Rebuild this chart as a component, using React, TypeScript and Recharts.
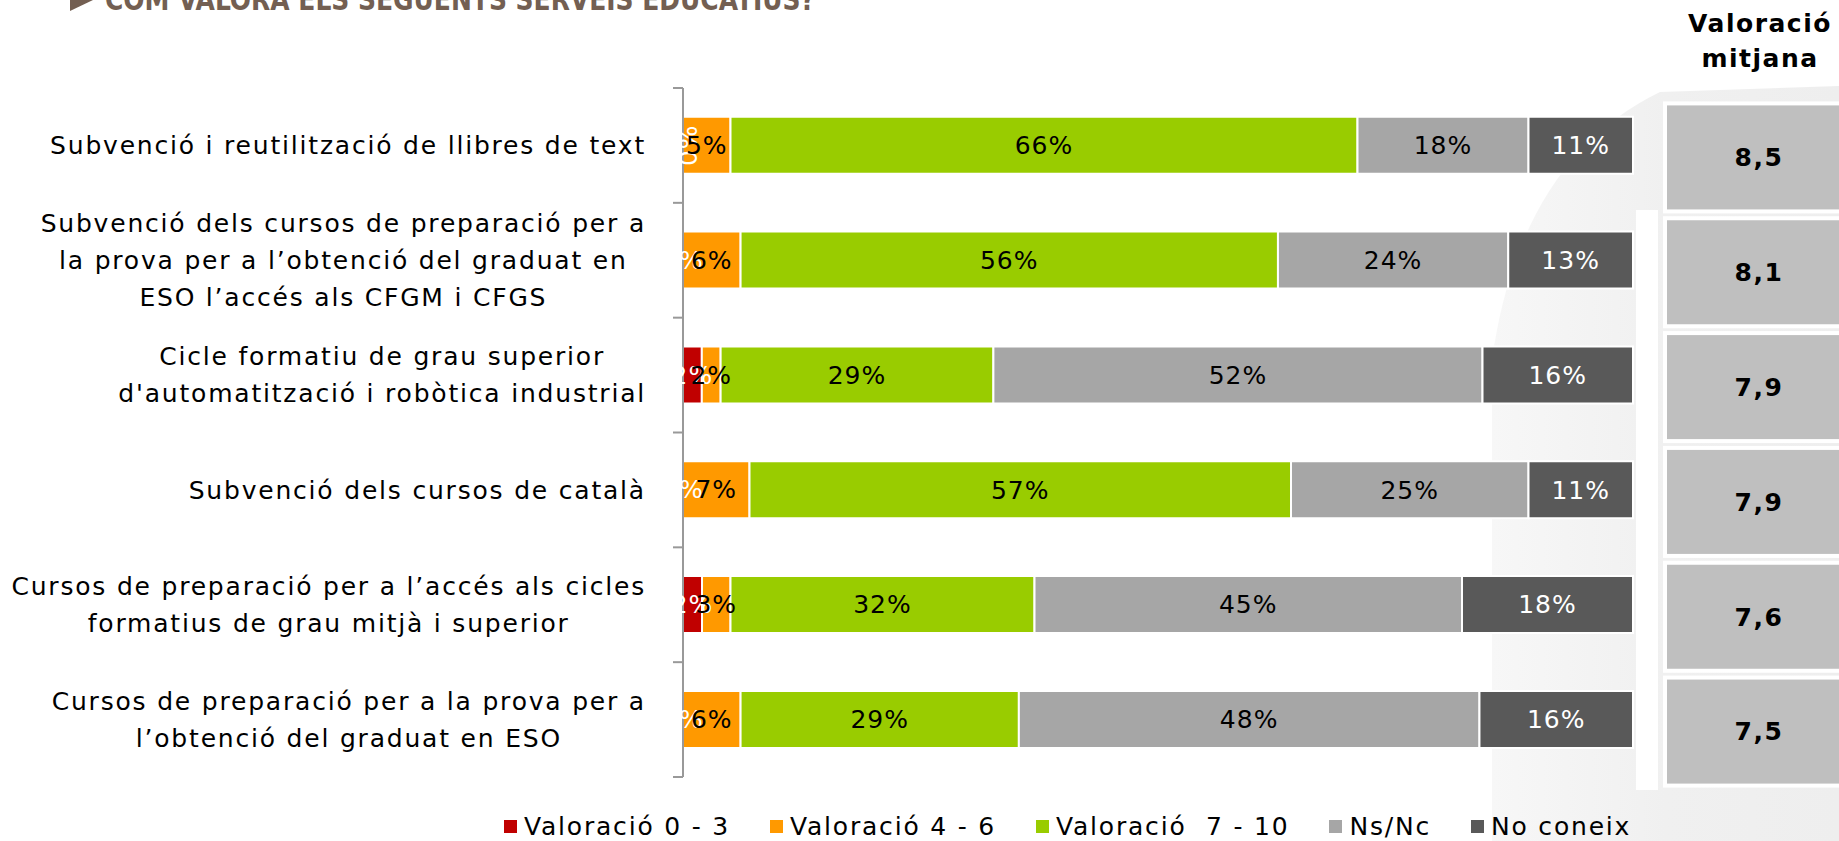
import React from 'react';
import { BarChart, Bar, XAxis, YAxis, LabelList, Legend } from 'recharts';

const FONT = '"DejaVu Sans", sans-serif';
const LABEL_SIZE = 25;
const LABEL_SPACING = 1.8;

// category labels, one entry per line as in the original slide
const categories = [
  ['Subvenció i reutilització de llibres de text'],
  ['Subvenció dels cursos de preparació per a', 'la prova per a l’obtenció del graduat en', 'ESO l’accés als CFGM i CFGS'],
  ['Cicle formatiu de grau superior', "d'automatització i robòtica industrial"],
  ['Subvenció dels cursos de català'],
  ['Cursos de preparació per a l’accés als cicles', 'formatius de grau mitjà i superior'],
  ['Cursos de preparació per a la prova per a', 'l’obtenció del graduat en ESO'],
];

const val0to3 = [0, 0, 2, 0, 2, 0];
const val4to6 = [5, 6, 2, 7, 3, 6];
const val7to10 = [66, 56, 29, 57, 32, 29];
const nsNc = [18, 24, 52, 25, 45, 48];
const noConeix = [11, 13, 16, 11, 18, 16];

const meanScores = ['8,5', '8,1', '7,9', '7,9', '7,6', '7,5'];

const seriesKeys = ['v03', 'v46', 'v710', 'nsnc', 'nc'];
const seriesNames = ['Valoració 0 - 3', 'Valoració 4 - 6', 'Valoració  7 - 10', 'Ns/Nc', 'No coneix'];
const seriesColors = ['#c00000', '#ff9900', '#99cc00', '#a6a6a6', '#595959'];
const labelColors = ['#ffffff', '#000000', '#000000', '#000000', '#ffffff'];
const seriesValues = [val0to3, val4to6, val7to10, nsNc, noConeix];

const data = categories.map((lines, i) => {
  const row: Record<string, any> = { name: lines.join(' '), mean: meanScores[i] };
  seriesKeys.forEach((k, j) => {
    row[k] = seriesValues[j][i];
  });
  return row;
});

let measureCtx: CanvasRenderingContext2D | null = null;
const textWidth = (s: string) => {
  if (!measureCtx) measureCtx = document.createElement('canvas').getContext('2d');
  if (!measureCtx) return s.length * 14;
  measureCtx.font = `${LABEL_SIZE}px "DejaVu Sans"`;
  return measureCtx.measureText(s).width + LABEL_SPACING * s.length;
};

const TICK_SIZE = 10;
const TICK_MARGIN = 27;

const CategoryTick = (props: any) => {
  const { x, y, payload, index } = props;
  const i = index ?? payload.index;
  const lines = categories[i] ?? [String(payload.value)];
  const half = payload.offset || 57.4;
  const axisX = x + TICK_SIZE + TICK_MARGIN;
  const maxW = Math.max(...lines.map(textWidth));
  const cx = x - maxW / 2;
  return (
    <g>
      <line x1={axisX - TICK_SIZE} x2={axisX} y1={y - half} y2={y - half} stroke="#999" strokeWidth={2} />
      {i === categories.length - 1 && (
        <line x1={axisX - TICK_SIZE} x2={axisX} y1={y + half} y2={y + half} stroke="#999" strokeWidth={2} />
      )}
      <text x={cx} y={y} textAnchor="middle" fontSize={LABEL_SIZE} letterSpacing={LABEL_SPACING} fill="#000">
        {lines.map((l, k) => (
          <tspan key={k} x={cx} y={y + (k - (lines.length - 1) / 2) * 37} dy="0.35em">
            {l}
          </tspan>
        ))}
      </text>
    </g>
  );
};

const MeanTick = (props: any) => {
  const { x, y, index } = props;
  return (
    <g>
      <rect x={x + 32} y={y + 12 - 54} width={180} height={108} fill="#bfbfbf" stroke="#fff" strokeWidth={4} />
      <text x={x + 126} y={y + 12} dy="0.35em" textAnchor="middle" fontWeight="bold" fontSize={25} letterSpacing={1.5} fill="#000">
        {meanScores[index]}
      </text>
    </g>
  );
};

// orange labels; zero-width red segments get their (white) label here, at the start of the orange bar
const OrangeLabel = (props: any) => {
  const { x, y, width, height, value, index } = props;
  const cx = x + width / 2;
  const cy = y + height / 2;
  const left = Math.min(x, x + width);
  const red = val0to3[index];
  const zx = left + (index === 0 ? 5 : 0);
  return (
    <g>
      {red === 0 && (
        <text
          x={zx}
          y={cy}
          dy="0.35em"
          textAnchor="middle"
          fill="#fff"
          fontSize={25}
          letterSpacing={1}
          transform={index === 0 ? `rotate(-90 ${zx} ${cy})` : undefined}
        >
          {`${red}%`}
        </text>
      )}
      <text x={cx} y={cy} dy="0.35em" textAnchor="middle" fill="#000" fontSize={25} letterSpacing={1}>
        {`${value}%`}
      </text>
    </g>
  );
};

const renderLegend = () => (
  <div style={{ display: 'flex', alignItems: 'center', height: 30, paddingLeft: 504, fontFamily: FONT, fontSize: 25, letterSpacing: 1.8 }}>
    {seriesNames.map((n, i) => (
      <div key={n} style={{ display: 'flex', alignItems: 'center', marginRight: 40 }}>
        <span style={{ width: 13, height: 13, background: seriesColors[i], marginRight: 7, display: 'inline-block' }} />
        <span style={{ whiteSpace: 'pre' }}>{n}</span>
      </div>
    ))}
  </div>
);

export default function App() {
  return (
    <div style={{ position: 'absolute', left: 0, top: 0, width: 1839, height: 841, fontFamily: FONT, background: '#fff', overflow: 'hidden' }}>
      <svg width={1839} height={841} style={{ position: 'absolute', left: 0, top: 0 }}>
        <defs>
          <linearGradient id="bgFade" x1="0" y1="0" x2="1" y2="0">
            <stop offset="0" stopColor="#f7f7f7" />
            <stop offset="0.5" stopColor="#f0f0f0" />
            <stop offset="1" stopColor="#eeeeee" />
          </linearGradient>
        </defs>
        <path d="M1492,841 L1492,360 Q1520,160 1660,92 L1839,86 L1839,841 Z" fill="url(#bgFade)" />
        <rect x={1636} y={210} width={22} height={580} fill="#fff" />
        <polygon points="70,-11 93,0 70,11" fill="#735f52" />
        <text x={105} y={10} fontFamily='"DejaVu Sans Condensed", "DejaVu Sans"' fontWeight="bold" fontSize={30} fill="#735f52" textLength={710} lengthAdjust="spacingAndGlyphs">
          COM VALORA ELS SEGUENTS SERVEIS EDUCATIUS?
        </text>
      </svg>
      <div style={{ position: 'absolute', left: 1660, top: 6, width: 200, textAlign: 'center', fontWeight: 'bold', fontSize: 25, lineHeight: '35px', letterSpacing: 1.5, color: '#000' }}>
        Valoració
        <br />
        mitjana
      </div>
      <div style={{ position: 'absolute', left: 0, top: 0 }}>
        <BarChart
          width={1839}
          height={841}
          data={data}
          layout="vertical"
          stackOffset="expand"
          barCategoryGap="25%"
          margin={{ top: 88, right: 0, bottom: 34, left: 0 }}
        >
          <XAxis type="number" hide domain={[0, 1]} />
          <YAxis
            yAxisId="left"
            type="category"
            dataKey="name"
            width={683}
            interval={0}
            tickSize={TICK_SIZE}
            tickMargin={TICK_MARGIN}
            tickLine={false}
            axisLine={{ stroke: '#999', strokeWidth: 2 }}
            tick={<CategoryTick />}
          />
          <YAxis
            yAxisId="right"
            orientation="right"
            type="category"
            dataKey="name"
            width={206}
            interval={0}
            tickSize={0}
            tickMargin={0}
            tickLine={false}
            axisLine={false}
            tick={<MeanTick />}
          />
          {/* hidden twin axis: a transparent copy of the stack carries the labels above every bar */}
          <YAxis yAxisId="labels" type="category" dataKey="name" hide width={0} />
          {seriesKeys.map((k, i) => (
            <Bar
              key={k}
              dataKey={k}
              name={seriesNames[i]}
              stackId="a"
              yAxisId="left"
              fill={seriesColors[i]}
              stroke="#fff"
              strokeWidth={2}
              isAnimationActive={false}
            />
          ))}
          {seriesKeys.map((k, i) => (
            <Bar
              key={`${k}-lbl`}
              dataKey={k}
              stackId="lbl"
              yAxisId="labels"
              fill="none"
              stroke="none"
              legendType="none"
              isAnimationActive={false}
            >
              {i === 1 ? (
                <LabelList dataKey={k} content={<OrangeLabel />} />
              ) : (
                <LabelList
                  dataKey={k}
                  position="center"
                  fill={labelColors[i]}
                  fontSize={25}
                  letterSpacing={1}
                  formatter={(v: any) => `${v}%`}
                />
              )}
            </Bar>
          ))}
          <Legend content={renderLegend} verticalAlign="bottom" wrapperStyle={{ left: 0, bottom: 0, width: 1839, height: 30 }} />
        </BarChart>
      </div>
    </div>
  );
}
